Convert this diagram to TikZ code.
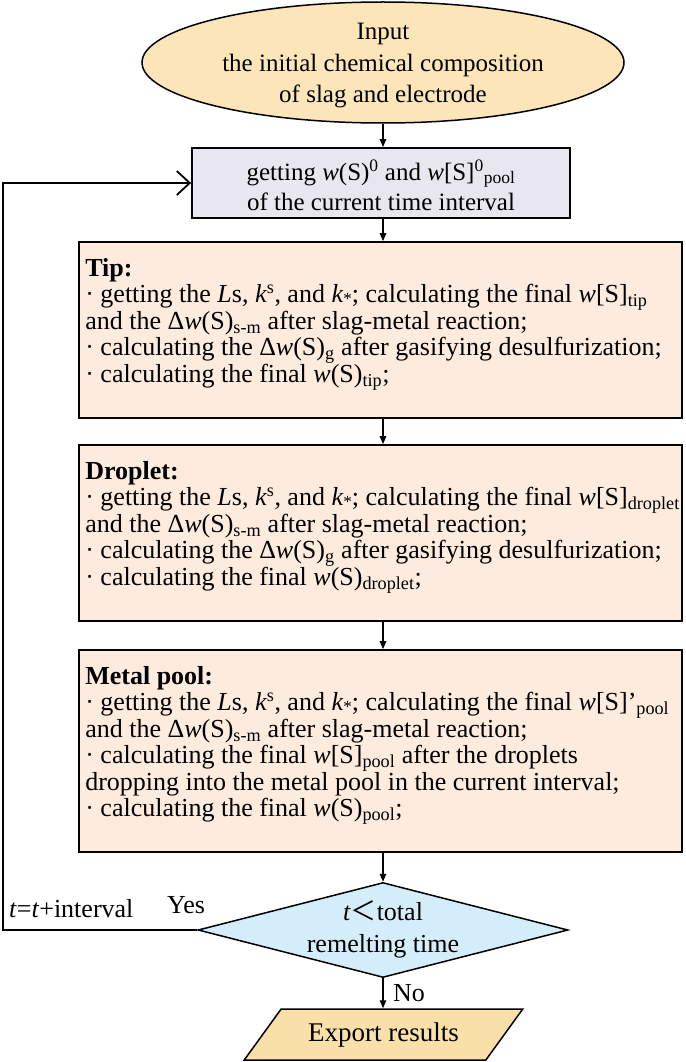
\documentclass[tikz,border=0pt]{standalone}
\usepackage{fontspec}
\setmainfont{Liberation Serif}
\newfontfamily\cjk{Noto Sans CJK SC}
\usetikzlibrary{shapes.geometric,arrows.meta,calc}
\definecolor{ellfill}{HTML}{FBE5B9}
\definecolor{grayfill}{HTML}{E8E6EF}
\definecolor{stepfill}{HTML}{FDEBDD}
\definecolor{decfill}{HTML}{D5ECF9}
\definecolor{expfill}{HTML}{F9E0A9}
\newcommand{\wi}{\textit{w}}
\newcommand{\ks}{\textit{k}\textsuperscript{s}}
\newcommand{\kstar}{\textit{k}{\fontsize{17}{17}\selectfont\raisebox{-0.12em}{*}}}
\newcommand{\sbs}[1]{\textsubscript{#1}}
\begin{document}
\begin{tikzpicture}[x=1pt,y=-1pt,
  every node/.style={font=\fontsize{26}{26.5}\selectfont},
  stepbox/.style={draw, line width=1.8pt, rectangle, fill=stepfill, inner sep=0pt, minimum width=603pt},
  body/.style={anchor=north west, inner sep=0pt, align=left},
  ctext/.style={align=center, inner sep=0pt},
  lab/.style={anchor=base west, inner sep=0pt},
  arr/.style={-{Triangle[length=8pt,width=6.5pt]}, line width=1.3pt}]
\useasboundingbox (0,0) rectangle (685,1062);

% shapes
\node[draw, line width=1.5pt, ellipse, fill=ellfill, minimum width=482pt, minimum height=121pt, inner sep=0pt] (ell) at (383,62.5) {};
\node[ctext, font=\fontsize{25}{31.5}\selectfont] (ellt) at (383,66) {Input\\the initial chemical composition\\of slag and electrode};

\node[draw, line width=1.8pt, fill=grayfill, minimum width=378pt, minimum height=70pt, inner sep=0pt] (gray) at (381,183) {};
\node[ctext, font=\fontsize{25}{30}\selectfont] (grayt) at (381,185) {getting \wi(S)\textsuperscript{0} and \wi[S]\textsuperscript{0}\sbs{pool}\\of the current time interval};

\node[stepbox, minimum height=176pt] (tip) at (380.5,330) {};
\node[body] (tipt) at ($(tip.north west)+(7,17)$) {\textbf{Tip:}\\
· getting the \textit{L}s, \ks, and \kstar; calculating the final \wi[S]\sbs{tip}\\
and the Δ\wi(S)\sbs{s-m} after slag-metal reaction;\\
· calculating the Δ\wi(S)\sbs{g} after gasifying desulfurization;\\
· calculating the final \wi(S)\sbs{tip};};

\node[stepbox, minimum height=176pt] (drop) at (380.5,533) {};
\node[body] (dropt) at ($(drop.north west)+(7,17)$) {\textbf{Droplet:}\\
· getting the \textit{L}s, \ks, and \kstar; calculating the final \wi[S]\sbs{droplet}\\
and the Δ\wi(S)\sbs{s-m} after slag-metal reaction;\\
· calculating the Δ\wi(S)\sbs{g} after gasifying desulfurization;\\
· calculating the final \wi(S)\sbs{droplet};};

\node[stepbox, minimum height=202pt] (metal) at (380.5,751) {};
\node[body] (metalt) at ($(metal.north west)+(7,17)$) {\textbf{Metal pool:}\\
· getting the \textit{L}s, \ks, and \kstar; calculating the final \wi[S]’\sbs{pool}\\
and the Δ\wi(S)\sbs{s-m} after slag-metal reaction;\\
· calculating the final \wi[S]\sbs{pool} after the droplets\\
dropping into the metal pool in the current interval;\\
· calculating the final \wi(S)\sbs{pool};};

\node[diamond, draw, line width=1.5pt, fill=decfill, minimum width=370pt, minimum height=95pt, inner sep=0pt, aspect=3.9] (dec) at (383,930) {};
\node[ctext, font=\fontsize{26}{32}\selectfont] (dect) at (383,929) {\textit{t}{\cjk ＜}total\\remelting time};

\node[trapezium, trapezium left angle=42, trapezium right angle=138, trapezium stretches=true, draw, line width=1.5pt, fill=expfill, minimum width=279pt, minimum height=51pt, inner sep=0pt, font=\fontsize{27}{27}\selectfont] (exp) at (383.5,1034.5) {Export results};

% labels
\node[lab] (tlab) at (9,917) {\textit{t}=\textit{t}+interval};
\node[lab] (yes) at (167,913) {Yes};
\node[lab] (no) at (393,1001) {No};

% connectors
\draw[arr] (ell.south) -- (ell.south |- gray.north);
\draw[arr] (ell.south |- gray.south) -- (ell.south |- tip.north);
\draw[arr] (ell.south |- tip.south) -- (ell.south |- drop.north);
\draw[arr] (ell.south |- drop.south) -- (ell.south |- metal.north);
\draw[arr] (ell.south |- metal.south) -- (dec.north);
\draw[arr] (dec.south) -- (dec.south |- exp.north);
\coordinate (lp) at (3,930);
\draw[line width=1.8pt, -{Straight Barb[length=13pt,width=24pt]}] (dec.west) -- (lp) |- (gray.west);
\end{tikzpicture}
\end{document}
